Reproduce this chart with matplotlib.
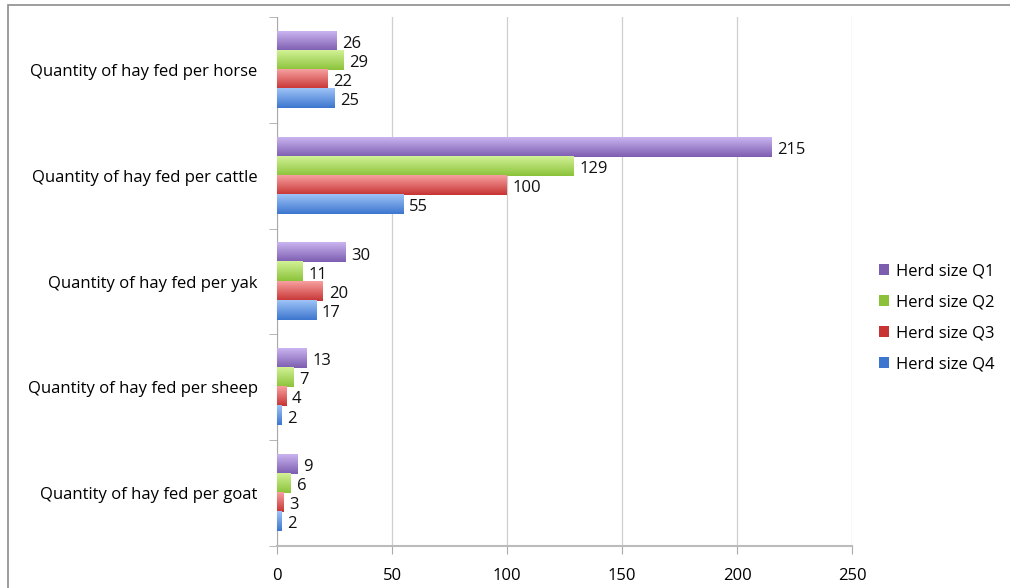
import numpy as np
import matplotlib
matplotlib.use("Agg")
import matplotlib.pyplot as plt
from matplotlib.colors import LinearSegmentedColormap
from matplotlib.patches import Rectangle

categories = [
    "Quantity of hay fed per horse",
    "Quantity of hay fed per cattle",
    "Quantity of hay fed per yak",
    "Quantity of hay fed per sheep",
    "Quantity of hay fed per goat",
]
series_names = ["Herd size Q1", "Herd size Q2", "Herd size Q3", "Herd size Q4"]
q1 = [26, 215, 30, 13, 9]
q2 = [29, 129, 11, 7, 6]
q3 = [22, 100, 20, 4, 3]
q4 = [25, 55, 17, 2, 2]
x_ticks = [0, 50, 100, 150, 200, 250]

# (light top, dark bottom) for the gradient look
colors = [
    ("#c9b4f0", "#7d5db0"),
    ("#d2f296", "#8bc23a"),
    ("#f7a0a0", "#c83434"),
    ("#9ec4f7", "#3d76cf"),
]

plt.rcParams["font.family"] = ["Open Sans", "DejaVu Sans"]

fig = plt.figure(figsize=(10.10, 5.88), dpi=100)
ax = fig.add_axes([277 / 1010, 42 / 588, (852 - 277) / 1010, (571 - 42) / 588])

# outer frame of the original picture
fig.patches.append(Rectangle((8 / 1010, -0.1), 1.2, 1 - 5 / 588 + 0.1,
                             transform=fig.transFigure, fill=False,
                             edgecolor="#8c8c8c", linewidth=1.2))

y = np.arange(len(categories))
bh = 0.18
offsets = [-1.5 * bh, -0.5 * bh, 0.5 * bh, 1.5 * bh]
grad = np.linspace(0, 1, 50).reshape(-1, 1)

for vals, name, off, (c1, c2) in zip([q1, q2, q3, q4], series_names, offsets, colors):
    bars = ax.barh(y + off, vals, height=bh, color=c2, label=name, zorder=2)
    cmap = LinearSegmentedColormap.from_list(name, [c1, c2])
    for b, v in zip(bars, vals):
        x0, y0 = b.get_x(), b.get_y()
        w, h = b.get_width(), b.get_height()
        # y axis is inverted, so top of the bar is y0
        ax.imshow(grad, cmap=cmap, aspect="auto", zorder=3,
                  extent=(x0, x0 + w, y0 + h, y0), interpolation="bilinear")
        ax.text(v + 2.5, y0 + h / 2 + 0.025, str(v), va="center", ha="left",
                fontsize=12, color="#111111", zorder=4)

ax.set_xlim(0, 250)
ax.set_ylim(len(categories) - 0.5, -0.5)
ax.set_xticks(x_ticks)
ax.set_xticklabels([str(t) for t in x_ticks], fontsize=12)
ax.set_yticks(y)
ax.set_yticklabels(categories, fontsize=12)
ax.tick_params(axis="y", length=0, pad=14)
ax.set_yticks(np.arange(-0.5, len(categories)), minor=True)
ax.tick_params(axis="y", which="minor", length=6, color="#aaaaaa")
ax.tick_params(axis="x", length=6, color="#aaaaaa", pad=10)
ax.xaxis.grid(True, color="#cfcfcf", linewidth=0.9, zorder=0)
ax.set_axisbelow(True)
for s in ["top", "right"]:
    ax.spines[s].set_visible(False)
ax.spines["left"].set_color("#aaaaaa")
ax.spines["bottom"].set_color("#bbbbbb")
ax.spines["bottom"].set_linewidth(1.5)

handles, labels = ax.get_legend_handles_labels()
fig.legend(handles, labels, loc="center left", bbox_to_anchor=(864 / 1010, 1 - 318 / 588),
           frameon=False, fontsize=12, handlelength=0.6, handleheight=0.6,
           labelspacing=0.9, handletextpad=0.4)

fig.savefig("out.png", dpi=100)
